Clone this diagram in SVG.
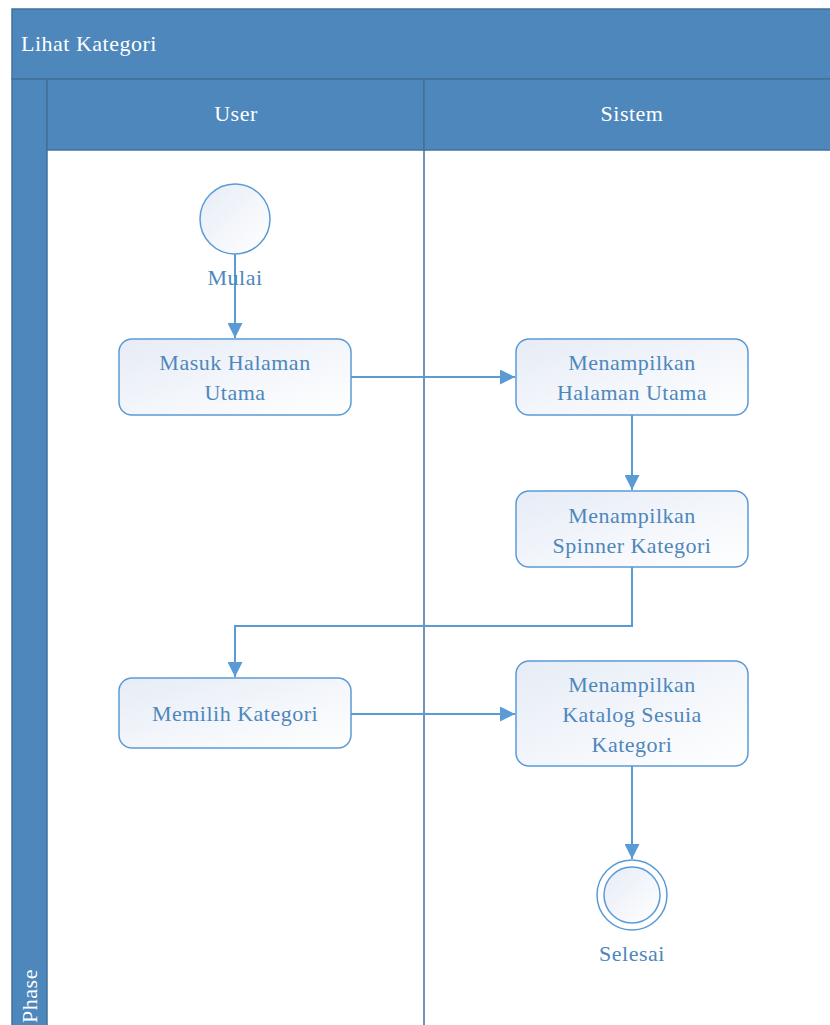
<svg xmlns="http://www.w3.org/2000/svg" width="830" height="1025" viewBox="0 0 830 1025">
<defs>
<linearGradient id="g" x1="0" y1="0" x2="1" y2="1">
<stop offset="0" stop-color="#E6ECF6"/>
<stop offset="1" stop-color="#FFFFFF"/>
</linearGradient>
<marker id="arr" viewBox="0 0 10 10" refX="10" refY="5" markerWidth="15" markerHeight="15" markerUnits="userSpaceOnUse" orient="auto">
<path d="M0,0 L10,5 L0,10 Z" fill="#5B9BD5"/>
</marker>
<style>
.band{fill:#4E87BB;stroke:#41719C;stroke-width:1.5}
.ht{font-size:22px;letter-spacing:0.5px;fill:#FFFFFF}
.node{fill:url(#g);stroke:#5B9BD5;stroke-width:1.5}
.nt{font-size:22px;letter-spacing:0.5px;fill:#4E87BB;text-anchor:middle}
.conn{fill:none;stroke:#5B9BD5;stroke-width:2}
</style>
</defs>
<rect width="830" height="1025" fill="#FFFFFF"/>
<g font-family="'Liberation Serif', 'Times New Roman', 'DejaVu Serif', serif">
<g id="pool">
<rect class="band" x="12" y="9" width="830" height="70"/>
<text class="ht" x="21" y="51">Lihat Kategori</text>
<rect class="band" x="12" y="79" width="35" height="960"/>
<text class="ht" transform="translate(37,996) rotate(-90)" text-anchor="middle">Phase</text>
<rect class="band" x="47" y="79" width="377" height="71"/>
<rect class="band" x="424" y="79" width="420" height="71"/>
<text class="ht" x="236" y="121" text-anchor="middle">User</text>
<text class="ht" x="632" y="121" text-anchor="middle">Sistem</text>
<line x1="424" y1="150" x2="424" y2="1025" stroke="#41719C" stroke-width="1.5"/>
</g>
<g id="connectors">
<line class="conn" x1="235" y1="254" x2="235" y2="338" marker-end="url(#arr)"/>
<line class="conn" x1="351" y1="377" x2="515" y2="377" marker-end="url(#arr)"/>
<line class="conn" x1="632" y1="415" x2="632" y2="490" marker-end="url(#arr)"/>
<polyline class="conn" points="632,567 632,626 235,626 235,677" marker-end="url(#arr)"/>
<line class="conn" x1="351" y1="714" x2="515" y2="714" marker-end="url(#arr)"/>
<line class="conn" x1="632" y1="766" x2="632" y2="859" marker-end="url(#arr)"/>
</g>
<g id="start">
<circle class="node" cx="235" cy="219" r="35"/>
<text class="nt" x="235" y="285">Mulai</text>
</g>
<g id="masuk">
<rect class="node" x="119" y="339" width="232" height="76" rx="13"/>
<text class="nt" x="235" y="370">Masuk Halaman</text>
<text class="nt" x="235" y="400">Utama</text>
</g>
<g id="tampil-halaman">
<rect class="node" x="516" y="339" width="232" height="76" rx="13"/>
<text class="nt" x="632" y="370">Menampilkan</text>
<text class="nt" x="632" y="400">Halaman Utama</text>
</g>
<g id="tampil-spinner">
<rect class="node" x="516" y="491" width="232" height="76" rx="13"/>
<text class="nt" x="632" y="523">Menampilkan</text>
<text class="nt" x="632" y="553">Spinner Kategori</text>
</g>
<g id="memilih">
<rect class="node" x="119" y="678" width="232" height="70" rx="13"/>
<text class="nt" x="235" y="721">Memilih Kategori</text>
</g>
<g id="tampil-katalog">
<rect class="node" x="516" y="661" width="232" height="105" rx="13"/>
<text class="nt" x="632" y="692">Menampilkan</text>
<text class="nt" x="632" y="722">Katalog Sesuia</text>
<text class="nt" x="632" y="752">Kategori</text>
</g>
<g id="end">
<circle cx="632" cy="895" r="35" fill="#FFFFFF" stroke="#5B9BD5" stroke-width="1.5"/>
<circle class="node" cx="632" cy="895" r="28"/>
<text class="nt" x="632" y="961">Selesai</text>
</g>
</g>
</svg>
